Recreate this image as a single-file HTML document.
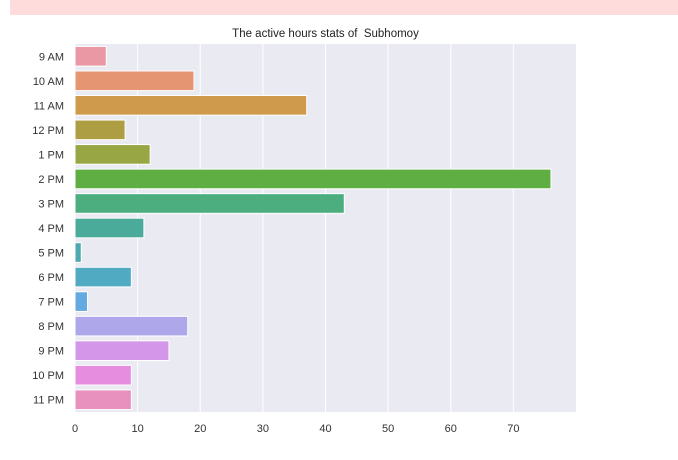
<!DOCTYPE html>
<html><head><meta charset="utf-8"><style>
body{margin:0;background:#fff;font-family:"Liberation Sans",sans-serif}
</style></head><body>
<div style="position:absolute;left:10px;top:0;width:668px;height:15px;background:#fddcdb"></div>
<svg id="c" width="678" height="460" style="position:absolute;left:0;top:0"></svg>
<script>
const categories=["9 AM","10 AM","11 AM","12 PM","1 PM","2 PM","3 PM","4 PM","5 PM","6 PM","7 PM","8 PM","9 PM","10 PM","11 PM"];
const values=[5,19,37,8,12,76,43,11,1,9,2,18,15,9,9];
const xTicks=[0,10,20,30,40,50,60,70];
const colors=["#ea98a3","#e59571","#cf9a4b","#ad9e44","#98a743","#5fae43","#4cad7e","#4bab9a","#4eaaae","#50aac1","#64aae0","#aea8ea","#d396e9","#e68de0","#e891bf"];
const svg=document.getElementById('c');const NS="http://www.w3.org/2000/svg";
const L=75,R=576,T=44,B=412,xmax=80;
const x=v=>L+v/xmax*(R-L);const step=(B-T)/categories.length;const y=i=>T+i*step;
function mk(t,a,p){const e=document.createElementNS(NS,t);for(const k in a)e.setAttribute(k,a[k]);(p||svg).appendChild(e);return e;}
const bg=mk('rect',{x:L,y:T,width:R-L,height:B-T,fill:'#eaeaf2'});


xTicks.forEach(t=>{
 const g=mk('line',{x1:x(t),x2:x(t),y1:T,y2:B,stroke:'#fff','stroke-width':1});
 
 
 const tx=mk('text',{x:x(t),y:B+20,'text-anchor':'middle','font-size':11,fill:'#333'});tx.textContent=t;
 
 
});
categories.forEach((c,i)=>{
 const r=mk('rect',{x:L,y:y(i)+step*0.1,width:x(values[i])-L,height:step*0.8,fill:colors[i],stroke:'#fff','stroke-width':1});
 
 
 const tx=mk('text',{x:L-11,y:y(i)+step/2+4,'text-anchor':'end','font-size':11,fill:'#333'});tx.textContent=c;
 
 
});
const ti=mk('text',{x:(L+R)/2,y:T-7,'text-anchor':'middle','font-size':11.5,fill:'#222'});ti.textContent="The active hours stats of  Subhomoy";
ti.setAttribute('xml:space','preserve');ti.style.whiteSpace='pre';


</script>
</body></html>
